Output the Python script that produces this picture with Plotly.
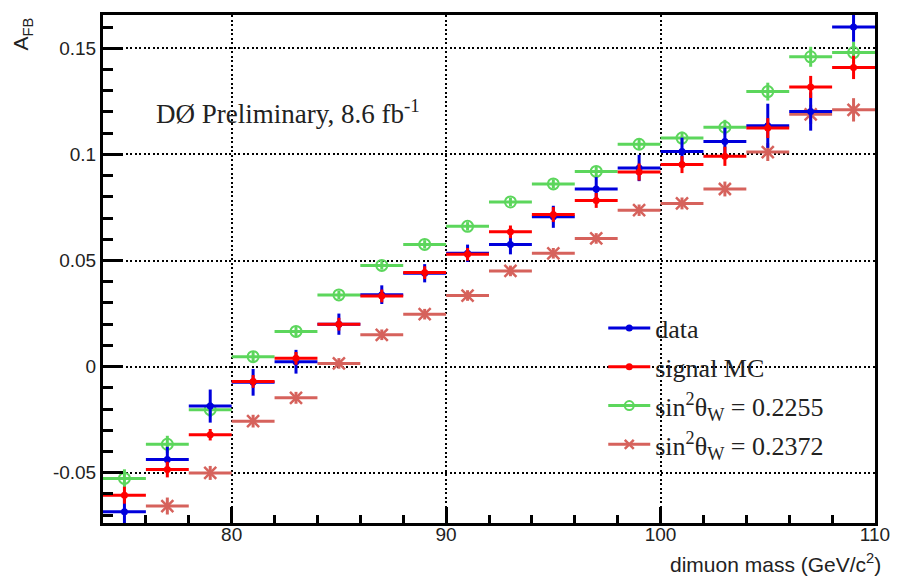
import plotly.graph_objects as go

# Dimuon mass bins (GeV/c^2): centres and half-widths
mass = [75, 77, 79, 81, 83, 85, 87, 89, 91, 93, 95, 97, 99, 101, 103, 105, 107, 109]
half_width = [1] * len(mass)

# Forward-backward asymmetry, data
afb_data = [-0.0684, -0.0438, -0.0186, -0.0074, 0.0023, 0.0200, 0.0339, 0.0440, 0.0534,
            0.0576, 0.0706, 0.0837, 0.0936, 0.1014, 0.1061, 0.1135, 0.1202, 0.1601]
err_data = [0.0060, 0.0060, 0.0078, 0.0063, 0.0056, 0.0050, 0.0044, 0.0043, 0.0041,
            0.0047, 0.0052, 0.0056, 0.0062, 0.0065, 0.0065, 0.0104, 0.0090, 0.0070]

# Signal MC
afb_mc = [-0.0606, -0.0485, -0.0321, -0.0070, 0.0039, 0.0200, 0.0333, 0.0443, 0.0529,
          0.0635, 0.0717, 0.0783, 0.0917, 0.0952, 0.0991, 0.1124, 0.1318, 0.1410]
err_mc = [0.0040, 0.0037, 0.0027, 0.0030, 0.0030, 0.0030, 0.0030, 0.0030, 0.0030,
          0.0030, 0.0035, 0.0035, 0.0040, 0.0040, 0.0045, 0.0047, 0.0052, 0.0055]

# Templates at sin^2(theta_W) = 0.2255
afb_2255 = [-0.0527, -0.0366, -0.0203, 0.0047, 0.0166, 0.0338, 0.0477, 0.0576, 0.0661,
            0.0776, 0.0861, 0.0920, 0.1048, 0.1077, 0.1128, 0.1296, 0.1460, 0.1480]
err_2255 = [0.0043, 0.0040, 0.0035, 0.0025, 0.0022, 0.0020, 0.0020, 0.0020, 0.0020,
            0.0020, 0.0022, 0.0024, 0.0026, 0.0030, 0.0035, 0.0042, 0.0047, 0.0050]

# Templates at sin^2(theta_W) = 0.2372
afb_2372 = [-0.0810, -0.0657, -0.0501, -0.0257, -0.0147, 0.0015, 0.0150, 0.0247, 0.0335,
            0.0451, 0.0534, 0.0604, 0.0737, 0.0769, 0.0837, 0.1011, 0.1189, 0.1210]
err_2372 = [0.0045, 0.0040, 0.0033, 0.0030, 0.0028, 0.0025, 0.0025, 0.0025, 0.0025,
            0.0025, 0.0025, 0.0025, 0.0027, 0.0028, 0.0035, 0.0042, 0.0045, 0.0055]

y_tickvals = [-0.05, 0, 0.05, 0.1, 0.15]
y_ticktext = ["-0.05", "0", "0.05", "0.1", "0.15"]
x_tickvals = [80, 90, 100, 110]

BLUE = "#0000dc"
RED = "#ff0000"
GREEN = "#5cd65c"
PINK = "#d6625c"

series = [
    # (name, values, errors, colour, marker symbol, size, marker line width)
    ("sin<sup>2</sup>θ<sub>W</sub> = 0.2255", afb_2255, err_2255, GREEN, "circle-open", 11, 2),
    ("sin<sup>2</sup>θ<sub>W</sub> = 0.2372", afb_2372, err_2372, PINK, "x-thin-open", 12, 2.5),
    ("data", afb_data, err_data, BLUE, "circle", 7, 0),
    ("signal MC", afb_mc, err_mc, RED, "circle", 7, 0),
]

fig = go.Figure()

for name, vals, errs, col, sym, size, mlw in series:
    fig.add_trace(go.Scatter(
        x=mass, y=vals, mode="markers", name=name, showlegend=False,
        marker=dict(symbol=sym, size=size, color=col,
                    line=dict(color=col, width=mlw)),
        error_x=dict(type="data", array=half_width, color=col, thickness=3, width=0),
        error_y=dict(type="data", array=errs, color=col, thickness=3, width=0),
    ))

# Legend entries, in the order they are listed
legend_order = ["data", "signal MC",
                "sin<sup>2</sup>θ<sub>W</sub> = 0.2255",
                "sin<sup>2</sup>θ<sub>W</sub> = 0.2372"]
style = {s[0]: s for s in series}
for i, name in enumerate(legend_order):
    _, _, _, col, sym, size, mlw = style[name]
    fig.add_trace(go.Scatter(
        x=[None], y=[None], mode="lines+markers", name=name, legendgroup=f"g{i}",
        line=dict(color=col, width=3),
        marker=dict(symbol=sym, size=min(size, 9), color=col,
                    line=dict(color=col, width=mlw)),
    ))

axis_common = dict(
    showline=True, linecolor="black", linewidth=3, mirror=True,
    ticks="inside", tickcolor="black", tickwidth=3,
    showgrid=True, gridcolor="black", gridwidth=1.5, griddash="2px,2.5px",
    zeroline=False,
    tickfont=dict(family="Liberation Sans, Arial", size=19, color="#222"),
)

fig.update_xaxes(
    range=[74, 110], tickvals=x_tickvals, ticklen=16, ticklabelstandoff=-8,
    minor=dict(dtick=2, tick0=74, ticks="inside", ticklen=8, tickwidth=3,
               tickcolor="black", showgrid=False),
    **axis_common,
)
fig.update_yaxes(
    range=[-0.0737, 0.1657], tickvals=y_tickvals, ticktext=y_ticktext, ticklen=20,
    minor=dict(dtick=0.01, tick0=0, ticks="inside", ticklen=10, tickwidth=3,
               tickcolor="black", showgrid=False),
    **axis_common,
)

fig.add_annotation(
    text="A<sub>FB</sub>", xref="paper", yref="paper", x=-0.105, y=1.0,
    xanchor="center", yanchor="top", textangle=-90, showarrow=False,
    font=dict(family="Liberation Sans, Arial", size=21, color="#222"),
)
fig.add_annotation(
    text="dimuon mass (GeV/c<sup>2</sup>)", xref="paper", yref="paper", x=1.01, y=-0.078,
    xanchor="right", yanchor="middle", showarrow=False,
    font=dict(family="Liberation Sans, Arial", size=21, color="#222"),
)
fig.add_annotation(
    text="DØ Preliminary, 8.6 fb<sup>-1</sup>", xref="paper", yref="paper",
    x=0.066, y=0.81, xanchor="left", yanchor="middle", showarrow=False,
    font=dict(family="Liberation Serif, Times New Roman", size=27, color="#222"),
)

fig.update_layout(
    width=902, height=583,
    margin=dict(l=103, r=20, t=13, b=60),
    paper_bgcolor="white", plot_bgcolor="white",
    legend=dict(
        x=0.648, y=0.43, xanchor="left", yanchor="top",
        bgcolor="rgba(0,0,0,0)", borderwidth=0,
        font=dict(family="Liberation Serif, Times New Roman", size=26, color="#222"),
        itemwidth=42, tracegroupgap=2,
    ),
)

fig.write_html("out.html")
